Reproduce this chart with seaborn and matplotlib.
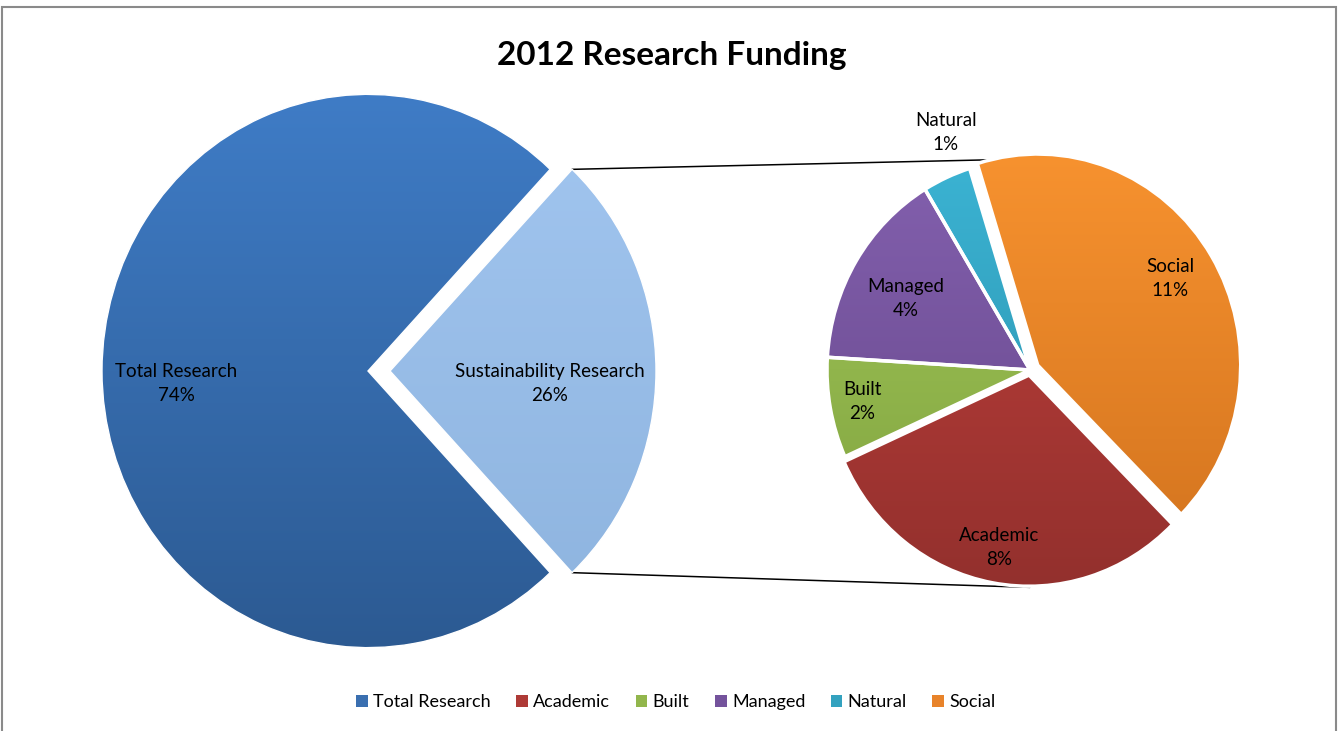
import numpy as np
import seaborn as sns
import matplotlib.pyplot as plt
from matplotlib.patches import Patch, Rectangle
from matplotlib.colors import LinearSegmentedColormap

# data
main_labels = ["Total Research", "Sustainability Research"]
main_values = [74, 26]
sub_labels = ["Academic", "Built", "Managed", "Natural", "Social"]
sub_values = [8, 2, 4, 1, 11]

# colours (top, bottom of the gradient)
main_colors = [("#3F7CC6", "#2C5A92"), ("#A2C6F0", "#8DB3DE")]
sub_colors = [("#C0403C", "#93302D"), ("#A3C85A", "#7FA23E"), ("#8360AE", "#654689"),
              ("#3BB3D3", "#2A8FA9"), ("#F7922F", "#D2731E")]
legend_colors = ["#3A6FB0", "#AE3A36", "#92B64C", "#74539C", "#33A2BF", "#E8832A"]

W, H = 1339, 731
S = 1.04  # vertical stretch of the pies


def px(x, y):
    # pixel (from top-left) -> data coords
    return x, (H - y) / S


sns.set_theme(style="white")
plt.rcParams['font.family'] = ['Lato', 'DejaVu Sans']
plt.rcParams['text.color'] = 'black'

fig = plt.figure(figsize=(W / 100, H / 100), dpi=100)
ax = fig.add_axes([0, 0, 1, 1])

# main pie (explode is in data units here)
c1 = px(368, 371)
r1 = 266
start1 = 180 * main_values[1] / sum(main_values)
w1, _ = ax.pie(main_values, startangle=start1, center=c1, radius=r1,
               explode=[0, 22], frame=True,
               wedgeprops=dict(edgecolor="white", linewidth=1))

# secondary pie
c2 = px(1030, 370)
r2 = 203
w2, _ = ax.pie(sub_values, startangle=-45, counterclock=False, center=c2, radius=r2,
               explode=[5, 0, 0, 0, 9], frame=True,
               wedgeprops=dict(edgecolor="white", linewidth=2.5))


def shade(wedges, colors):
    for w, (top, bot) in zip(wedges, colors):
        cx, cy = w.center
        r = w.r
        cmap = LinearSegmentedColormap.from_list("g", [top, bot])
        grad = np.linspace(0, 1, 256)[:, None]
        im = ax.imshow(grad, cmap=cmap, extent=[cx - r, cx + r, cy - r, cy + r],
                       origin="upper", aspect="auto", zorder=2, interpolation="bilinear")
        im.set_clip_path(w)
        w.set_facecolor("none")
        w.set_zorder(3)


shade(w1, main_colors)
shade(w2, sub_colors)


def label(w, text, dist, dang=0, dy=0):
    th = np.deg2rad((w.theta1 + w.theta2) / 2 + dang)
    cx, cy = w.center
    ax.text(cx + dist * w.r * np.cos(th), cy + dist * w.r * np.sin(th) + dy, text,
            ha="center", va="center", fontsize=13.5, linespacing=1.5, zorder=5)


for w, name, v, d in zip(w1, main_labels, main_values, [0.72, 0.6]):
    label(w, f"{name}\n{v}%", d, dy=-12)

sub_dist = [0.83, 0.84, 0.7, 1.2, 0.77]
sub_dang = [0, 0, 2, -4, 1]
for w, name, v, d, da in zip(w2, sub_labels, sub_values, sub_dist, sub_dang):
    label(w, f"{name}\n{v}%", d, dang=da)

# connector lines from the exploded slice to the secondary pie
sw = w1[1]
for th, yend in [(sw.theta2, c2[1] + r2), (sw.theta1, c2[1] - r2 - 6)]:
    t = np.deg2rad(th)
    x0 = sw.center[0] + sw.r * np.cos(t)
    y0 = sw.center[1] + sw.r * np.sin(t)
    ax.plot([x0, c2[0]], [y0, yend], color="black", lw=1.1, zorder=1)

ax.set_aspect("auto")
ax.set_xlim(0, W)
ax.set_ylim(0, H / S)
ax.axis("off")

fig.text(672 / W, 1 - 55 / H, "2012 Research Funding", ha="center", va="center",
         fontsize=24, fontweight="bold")

handles = [Patch(facecolor=c, edgecolor="none") for c in legend_colors]
names = [main_labels[0]] + sub_labels
fig.legend(handles, names, loc="center", bbox_to_anchor=(676 / W, 1 - 702 / H), ncol=6,
           frameon=False, fontsize=13, handlelength=0.65, handleheight=0.65,
           handletextpad=0.3, columnspacing=1.4)

fig.patches.append(Rectangle((2 / W, -0.02), 1334 / W, 1.02 - 7 / H, fill=False,
                             edgecolor="#8a8a8a", lw=1.5, transform=fig.transFigure))

fig.savefig("out.png", dpi=100, facecolor="white")
